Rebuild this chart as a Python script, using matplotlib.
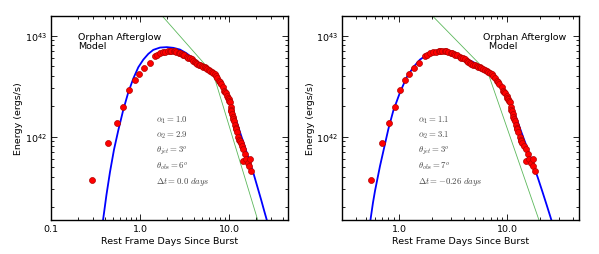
import matplotlib
matplotlib.use("Agg")
import matplotlib.pyplot as plt
from matplotlib.ticker import LogLocator, NullFormatter
import numpy as np

# ---------------- data (rest-frame days for dt = 0, energy in erg/s) ----------------
t_days = [0.29, 0.44, 0.55, 0.65, 0.76, 0.88, 0.98, 1.11, 1.28, 1.47,
          1.55, 1.67, 1.80, 1.93, 2.07, 2.15, 2.23, 2.39, 2.48, 2.57, 2.75, 2.85,
          2.95, 3.05, 3.16, 3.39, 3.50, 3.62, 3.80, 3.94, 4.10, 4.25, 4.40, 4.57,
          4.75, 4.93, 5.10, 5.31, 5.50, 5.71, 5.90, 6.16, 6.40, 6.62, 6.90, 7.12,
          7.40, 7.68, 7.90, 8.13, 8.57, 8.87, 9.00, 9.20, 9.55, 9.70, 9.89, 10.10,
          10.26, 10.42, 10.55, 10.65, 10.88, 11.03, 11.20, 11.44, 11.68, 11.90,
          12.02, 12.29, 12.74, 13.02, 13.20, 13.51, 13.90, 14.42, 14.51, 15.25,
          15.59, 16.17, 16.99, 17.06, 17.62]
energy = [3.74e41, 8.58e41, 1.35e42, 1.97e42, 2.90e42, 3.63e42, 4.19e42, 4.77e42, 5.36e42, 6.24e42,
          6.43e42, 6.65e42, 6.81e42, 6.93e42, 7.00e42, 6.98e42, 7.00e42, 6.97e42, 6.95e42, 6.89e42, 6.73e42, 6.65e42,
          6.58e42, 6.45e42, 6.35e42, 6.14e42, 6.00e42, 5.93e42, 5.80e42, 5.57e42, 5.45e42, 5.35e42, 5.25e42, 5.15e42,
          5.05e42, 4.97e42, 4.90e42, 4.85e42, 4.75e42, 4.67e42, 4.55e42, 4.43e42, 4.35e42, 4.23e42, 4.12e42, 4.00e42,
          3.77e42, 3.57e42, 3.45e42, 3.31e42, 3.07e42, 2.84e42, 2.78e42, 2.68e42, 2.50e42, 2.42e42, 2.35e42, 2.25e42,
          2.18e42, 1.94e42, 1.85e42, 1.80e42, 1.67e42, 1.55e42, 1.50e42, 1.43e42, 1.30e42, 1.22e42,
          1.18e42, 1.10e42, 1.00e42, 9.25e41, 9.00e41, 8.58e41, 8.06e41, 7.48e41, 5.67e41, 6.67e41,
          5.95e41, 5.52e41, 5.10e41, 5.95e41, 4.55e41]

# time shift applied to the data in each panel (days)
data_shift = [0.0, 0.26]

# orphan afterglow model curves (blue)
model_t_left = [0.36, 0.384, 0.42, 0.46, 0.51, 0.57, 0.65, 0.739, 0.841, 0.957, 1.089, 1.24,
                1.41, 1.68, 2.0, 2.37, 2.81, 3.3, 4.0, 5.0, 6.0, 7.0, 8.0, 9.0, 10.0, 11.0, 12.0,
                13.0, 14.0, 15.5, 17.0, 19.0, 21.0, 23.0, 25.0, 27.0, 28.5]
model_E_left = [1.1e41, 1.48e41, 2.65e41, 4.45e41, 7.4e41, 1.15e42, 1.85e42, 2.74e42, 3.75e42, 4.85e42,
                5.77e42, 6.58e42, 7.21e42, 7.60e42, 7.67e42, 7.55e42, 7.26e42, 6.7e42, 5.9e42, 5.1e42,
                4.5e42, 3.95e42, 3.45e42, 2.85e42, 2.3e42, 1.83e42, 1.46e42, 1.17e42, 9.6e41, 7.3e41,
                5.7e41, 4.2e41, 3.1e41, 2.35e41, 1.8e41, 1.42e41, 1.2e41]
model_t_right = [0.52, 0.545, 0.575, 0.601, 0.668, 0.797, 0.886, 1.021, 1.177, 1.354, 1.56, 1.80,
                 2.22, 2.6, 3.0, 3.5, 4.0, 5.0, 6.0, 7.0, 8.0, 9.0, 10.0, 11.0, 12.0, 13.0, 14.0,
                 15.5, 17.0, 19.0, 21.0, 23.0, 25.0, 27.0, 28.5]
model_E_right = [1.1e41, 1.48e41, 2.2e41, 2.9e41, 5.1e41, 1.18e42, 1.80e42, 2.73e42, 3.86e42, 4.85e42,
                 5.77e42, 6.43e42, 6.93e42, 7.0e42, 6.85e42, 6.45e42, 6.05e42, 5.35e42, 4.75e42, 4.2e42,
                 3.65e42, 3.05e42, 2.5e42, 1.95e42, 1.55e42, 1.22e42, 9.8e41, 7.3e41, 5.5e41, 3.95e41,
                 2.85e41, 2.1e41, 1.58e41, 1.2e41, 1.0e41]

# broken power law (green)
green_t_left = [1.5, 6.67, 25.0]
green_E_left = [1.85e43, 4.16e42, 9.0e40]
green_t_right = [1.8, 6.6, 22.0]
green_E_right = [1.79e43, 4.3e42, 1.03e41]

params_left = [r"$\alpha_1=1.0$", r"$\alpha_2=2.9$", r"$\theta_{jet}=3^o$",
               r"$\theta_{obs}=6^o$", r"$\Delta t=0.0\ days$"]
params_right = [r"$\alpha_1=1.1$", r"$\alpha_2=3.1$", r"$\theta_{jet}=3^o$",
                r"$\theta_{obs}=7^o$", r"$\Delta t=-0.26\ days$"]

xticks_left = [0.1, 1.0, 10.0]
xticklabels_left = ["0.1", "1.0", "10.0"]
xticks_right = [1.0, 10.0]
xticklabels_right = ["1.0", "10.0"]
yticks = [1e42, 1e43]
yticklabels = [r"$10^{42}$", r"$10^{43}$"]

# ---------------- figure ----------------
FS = 6.8
W, H = 599, 255
fig = plt.figure(figsize=(W / 100, H / 100), dpi=100)
fig.patch.set_facecolor("white")
axL = fig.add_axes([51 / W, 34.3 / H, 237 / W, 203.4 / H])
axR = fig.add_axes([342.3 / W, 34.3 / H, 237 / W, 203.4 / H])

panels = [
    (axL, model_t_left, model_E_left, green_t_left, green_E_left, params_left,
     (0.1, 46), xticks_left, xticklabels_left, data_shift[0], 0.443,
     (0.114, 0.923), "Orphan Afterglow\nModel"),
    (axR, model_t_right, model_E_right, green_t_right, green_E_right, params_right,
     (0.3, 46), xticks_right, xticklabels_right, data_shift[1], 0.319,
     (0.595, 0.923), "Orphan Afterglow\n  Model"),
]

for (ax, mt, mE, gt, gE, ptxt, xlim, xt, xtl, shift, px, tpos, title) in panels:
    ax.set_xscale("log")
    ax.set_yscale("log")
    ax.plot(gt, gE, color="#5cb85c", lw=0.6, zorder=1)
    ax.plot(mt, mE, color="blue", lw=1.3, zorder=2)
    ax.plot(np.array(t_days) + shift, energy, "o", ms=4.3, mfc="red",
            mec="#b00000", mew=0.5, ls="none", zorder=3)
    ax.set_xlim(*xlim)
    ax.set_ylim(1.5e41, 1.55e43)
    ax.set_xticks(xt)
    ax.set_xticklabels(xtl)
    ax.set_yticks(yticks)
    ax.set_yticklabels(yticklabels)
    ax.xaxis.set_minor_locator(LogLocator(base=10, subs=np.arange(2, 10), numticks=20))
    ax.yaxis.set_minor_locator(LogLocator(base=10, subs=np.arange(2, 10), numticks=20))
    ax.xaxis.set_minor_formatter(NullFormatter())
    ax.yaxis.set_minor_formatter(NullFormatter())
    ax.tick_params(which="both", direction="in", top=True, right=True,
                   labelsize=FS, width=0.6, pad=3)
    ax.tick_params(which="major", length=4)
    ax.tick_params(which="minor", length=2)
    for s in ax.spines.values():
        s.set_linewidth(1.0)
    ax.set_xlabel("Rest Frame Days Since Burst", fontsize=FS, labelpad=2)
    ax.set_ylabel("Energy (ergs/s)", fontsize=FS, labelpad=1)
    ax.text(tpos[0], tpos[1], title, transform=ax.transAxes, fontsize=FS,
            ha="left", va="top", linespacing=1.0)
    for i, s in enumerate(ptxt):
        ax.text(px, 0.495 - i * 0.0765, s, transform=ax.transAxes, fontsize=6.3,
                color="#444444", ha="left", va="center", math_fontfamily="cm")

fig.savefig("out.png", dpi=100, facecolor="white")
